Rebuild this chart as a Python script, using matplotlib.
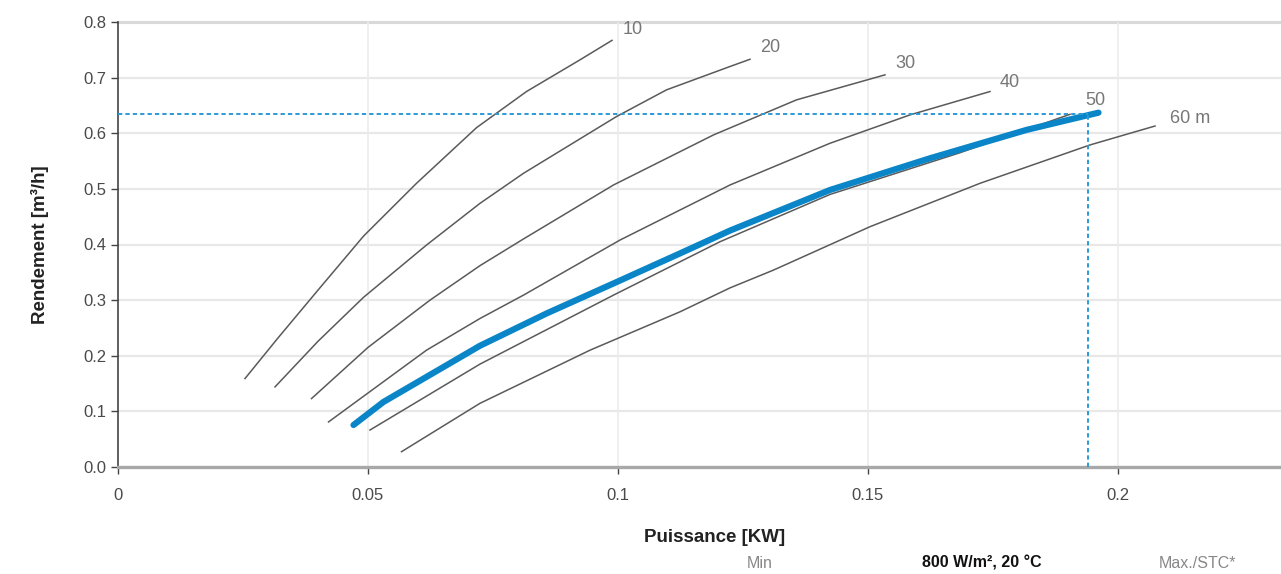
import matplotlib
matplotlib.use("Agg")
import matplotlib.pyplot as plt
from matplotlib.ticker import FuncFormatter

plt.rcParams['font.family'] = ['Liberation Sans', 'DejaVu Sans']

# ---- data ----
x10 = [0.0254, 0.0320, 0.0400, 0.0491, 0.0597, 0.0717, 0.0817, 0.0924, 0.0988]
y10 = [0.159, 0.232, 0.318, 0.415, 0.510, 0.610, 0.675, 0.732, 0.767]

x20 = [0.0314, 0.0400, 0.0491, 0.0617, 0.0724, 0.0811, 0.0997, 0.1097, 0.1224, 0.1264]
y20 = [0.144, 0.226, 0.305, 0.399, 0.474, 0.528, 0.630, 0.678, 0.720, 0.733]

x30 = [0.0387, 0.0500, 0.0624, 0.0724, 0.0811, 0.0991, 0.1191, 0.1357, 0.1534]
y30 = [0.123, 0.215, 0.300, 0.362, 0.410, 0.507, 0.597, 0.660, 0.705]

x40 = [0.0421, 0.0617, 0.0724, 0.0811, 0.1004, 0.1224, 0.1424, 0.1584, 0.1744]
y40 = [0.081, 0.210, 0.267, 0.309, 0.408, 0.507, 0.582, 0.633, 0.675]

x50 = [0.0504, 0.0724, 0.0991, 0.1204, 0.1424, 0.1684, 0.1904]
y50 = [0.0665, 0.185, 0.309, 0.405, 0.490, 0.565, 0.634]

x60 = [0.0567, 0.0724, 0.0944, 0.1124, 0.1224, 0.1311, 0.1504, 0.1724, 0.1944, 0.2074]
y60 = [0.0275, 0.1145, 0.210, 0.279, 0.322, 0.354, 0.432, 0.510, 0.579, 0.613]

x_op = [0.0471, 0.0531, 0.0724, 0.0857, 0.0991, 0.1124, 0.1224, 0.1424, 0.1624, 0.1817, 0.1961]
y_op = [0.0755, 0.117, 0.218, 0.276, 0.330, 0.384, 0.425, 0.498, 0.555, 0.606, 0.637]

op_x = 0.194
op_y = 0.635

curve_labels = ["10", "20", "30", "40", "50", "60 m"]
label_x = [0.1030, 0.1304, 0.1574, 0.1784, 0.1954, 0.2144]
label_y = [0.786, 0.755, 0.726, 0.692, 0.658, 0.627]

x_ticks = [0, 0.05, 0.1, 0.15, 0.2]
x_ticklabels = ["0", "0.05", "0.1", "0.15", "0.2"]
y_ticks = [0.0, 0.1, 0.2, 0.3, 0.4, 0.5, 0.6, 0.7, 0.8]

# ---- figure ----
fig = plt.figure(figsize=(12.81, 5.74), dpi=100)
ax = fig.add_axes([118/1281, 107/574, 1 - 118/1281, 445/574])
ax.set_xlim(0, 0.2326)
ax.set_ylim(0, 0.8)

# grid
for yv in y_ticks[1:-1]:
    ax.axhline(yv, color='#e8e8e8', lw=1.6, zorder=0)
ax.axhline(0.8, color='#d9d9d9', lw=2.2, zorder=0, clip_on=False)
for xv in x_ticks[1:]:
    ax.axvline(xv, color='#ececec', lw=1.2, zorder=0)

gray = '#5a5a5a'
for xs, ys in [(x10, y10), (x20, y20), (x30, y30), (x40, y40), (x50, y50), (x60, y60)]:
    ax.plot(xs, ys, color=gray, lw=1.1, zorder=2)

ax.plot(x_op, y_op, color='#0a86c8', lw=4.5, solid_capstyle='round', zorder=3)

ax.plot([0, op_x], [op_y, op_y], color='#2c9ad6', lw=1.4, ls=(0, (2.2, 1.6)), zorder=4)
ax.plot([op_x, op_x], [0, op_y], color='#2c9ad6', lw=1.4, ls=(0, (2.2, 1.6)), zorder=4)

for t, lx, ly in zip(curve_labels, label_x, label_y):
    ax.text(lx, ly, t, color='#777777', fontsize=13, ha='center', va='center')

ax.set_xticks(x_ticks)
ax.set_xticklabels(x_ticklabels)
ax.set_yticks(y_ticks)
ax.yaxis.set_major_formatter(FuncFormatter(lambda v, p: f"{v:.1f}"))
ax.tick_params(axis='both', colors='#444444', labelcolor='#4a4a4a', labelsize=12,
               length=5, width=1, direction='out')
ax.tick_params(axis='x', pad=10)

for s in ['top', 'right']:
    ax.spines[s].set_visible(False)
ax.spines['left'].set_color('#444444')
ax.spines['left'].set_linewidth(1.2)
ax.spines['bottom'].set_color('#a8a8a8')
ax.spines['bottom'].set_linewidth(2.4)

fig.text(715/1281, 1 - 537/574, "Puissance [KW]", fontsize=13.5, fontweight='bold',
         color='#222222', ha='center', va='center')
fig.text(40/1281, 1 - 245/574, "Rendement [m³/h]", fontsize=13.5, fontweight='bold',
         color='#222222', ha='center', va='center', rotation=90)
fig.text(760/1281, 1 - 563/574, "Min", fontsize=11.5, color='#888888', ha='center', va='center')
fig.text(982/1281, 1 - 563/574, "800 W/m², 20 °C", fontsize=11.5, fontweight='bold',
         color='#111111', ha='center', va='center')
fig.text(1197/1281, 1 - 563/574, "Max./STC*", fontsize=11.5, color='#888888', ha='center', va='center')

fig.savefig("out.png", dpi=100)
